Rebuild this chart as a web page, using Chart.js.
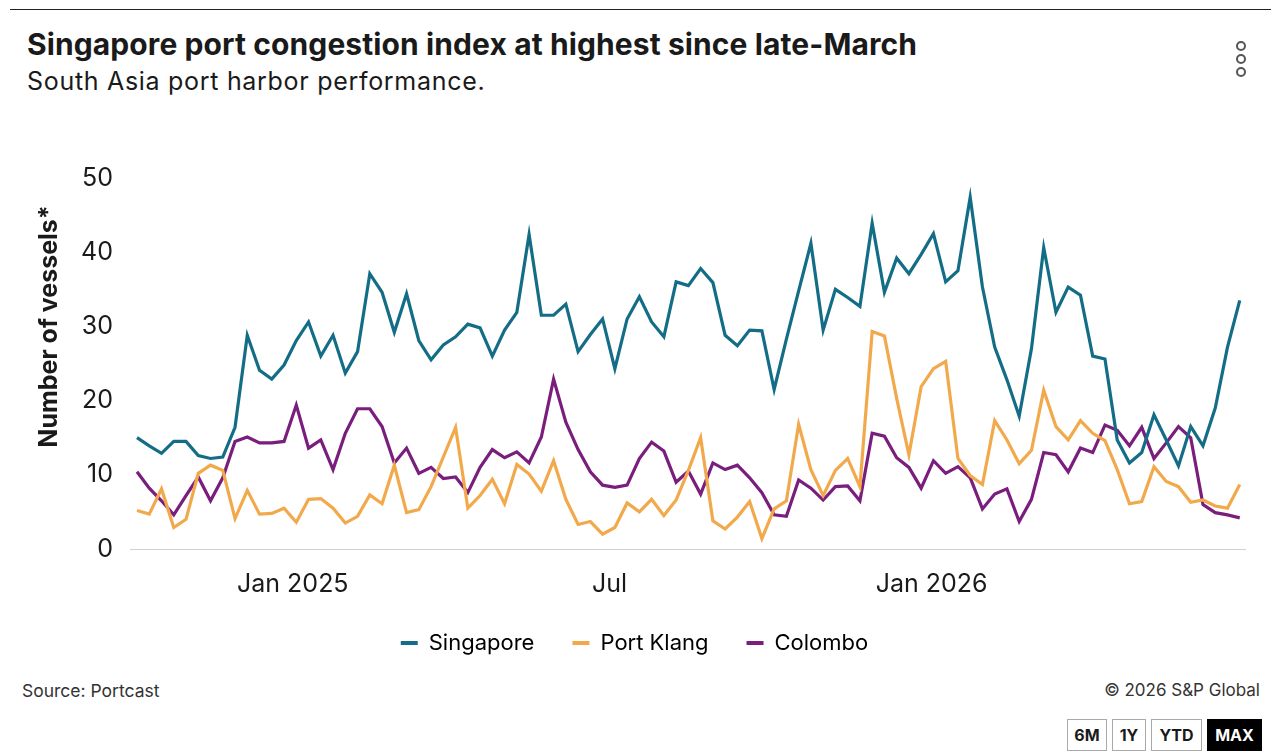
<!DOCTYPE html>
<html>
<head>
<meta charset="utf-8">
<script src="https://cdn.jsdelivr.net/npm/chart.js@4"></script>
<style>
  body { margin: 0; background: #fff; font-family: Inter, sans-serif; color: #1a1a1a; }
  #page { position: relative; width: 1281px; height: 756px; overflow: hidden; }
  .rule { position: absolute; left: 10px; top: 9px; width: 1261px; height: 1px; background: #222; }
  h1 { position: absolute; left: 27px; top: 26px; margin: 0; font-size: 30px; font-weight: 700; letter-spacing: 0.1px; }
  .sub { position: absolute; left: 27px; top: 66px; font-size: 25px; letter-spacing: 0.7px; }
  .dots { position: absolute; left: 1236px; top: 41px; }
  .dots span { display: block; width: 6px; height: 6px; border: 2px solid #555; border-radius: 50%; margin-bottom: 3px; }
  #wrap { position: absolute; left: 0; top: 110px; width: 1281px; height: 554px; }
  .src { position: absolute; left: 22px; top: 680px; font-size: 17.5px; color: #333; }
  .copy { position: absolute; right: 21px; top: 680px; font-size: 17px; color: #333; }
  .btn { position: absolute; top: 719px; height: 32px; border: 1px solid #aaa; box-sizing: border-box;
         font-size: 16px; font-weight: 700; line-height: 30px; text-align: center; }
</style>
</head>
<body>
<div id="page">
  <div class="rule"></div>
  <h1>Singapore port congestion index at highest since late-March</h1>
  <div class="sub">South Asia port harbor performance.</div>
  <div class="dots"><span></span><span></span><span></span></div>
  <div id="wrap"><canvas id="myChart"></canvas></div>
  <div class="src">Source: Portcast</div>
  <div class="copy">© 2026 S&amp;P Global</div>
  <div class="btn" style="left:1067px;width:40px;">6M</div>
  <div class="btn" style="left:1112px;width:34px;">1Y</div>
  <div class="btn" style="left:1151px;width:51px;">YTD</div>
  <div class="btn" style="left:1207px;width:55px;background:#000;color:#fff;border-color:#000;">MAX</div>
</div>
<script>
// weekly readings, first week ending 2024-10-04
const startDate = '2024-10-04';

const singapore = [15.0,13.9,12.9,14.5,14.5,12.6,12.2,12.4,16.4,28.8,24.1,22.9,24.8,28.1,30.6,26.0,28.8,23.7,26.6,37.1,
  34.6,29.2,34.4,28.1,25.5,27.5,28.6,30.3,29.8,26.0,29.5,31.9,42.4,31.5,31.5,33.0,26.6,28.9,31.0,24.3,
  31.0,34.0,30.6,28.6,36.0,35.5,37.8,35.9,28.8,27.4,29.5,29.4,21.5,28.3,34.8,41.2,29.5,35.0,33.9,32.7,
  43.9,34.6,39.2,37.1,39.7,42.5,36.0,37.5,47.4,35.3,27.2,22.8,17.9,27.0,40.6,31.9,35.3,34.2,26.0,25.6,
  14.7,11.6,13.0,18.1,14.7,11.2,16.5,13.9,19.0,27.2,33.5];

const portKlang = [5.2,4.7,8.1,2.9,4.0,10.2,11.3,10.6,4.1,7.9,4.7,4.8,5.5,3.6,6.7,6.8,5.5,3.5,4.4,7.3,
  6.1,11.3,4.9,5.3,8.4,12.4,16.4,5.5,7.2,9.4,6.1,11.4,10.1,7.8,11.9,6.7,3.3,3.7,2.0,2.9,
  6.2,5.0,6.7,4.5,6.6,10.6,15.0,3.8,2.7,4.3,6.4,1.4,5.4,6.5,16.8,10.7,7.2,10.6,12.2,8.4,
  29.3,28.7,20.3,12.7,21.9,24.3,25.3,12.2,9.9,8.7,17.3,14.7,11.5,13.3,21.4,16.5,14.7,17.3,15.6,14.6,
  10.7,6.1,6.4,11.1,9.1,8.4,6.3,6.6,5.8,5.5,8.7];

const colombo = [10.4,8.2,6.5,4.6,7.2,9.7,6.5,9.6,14.5,15.1,14.3,14.3,14.5,19.4,13.6,14.7,10.7,15.6,18.9,18.9,
  16.5,11.6,13.6,10.2,11.0,9.5,9.7,7.6,11.0,13.4,12.3,13.1,11.6,15.1,22.9,17.1,13.4,10.4,8.6,8.3,
  8.6,12.2,14.4,13.2,9.0,10.5,7.4,11.6,10.7,11.3,9.6,7.6,4.6,4.4,9.3,8.2,6.6,8.4,8.5,6.5,
  15.6,15.2,12.3,11.0,8.2,11.9,10.2,11.1,9.6,5.4,7.4,8.1,3.7,6.7,13.0,12.7,10.4,13.6,13.0,16.7,
  16.0,13.9,16.4,12.2,14.3,16.5,15.0,6.0,4.9,4.6,4.2];

const seriesNames = ['Singapore', 'Port Klang', 'Colombo'];
const seriesColors = ['#146d86', '#f2a94b', '#7a1e7e'];

// x axis ticks: day offsets from 2025-01-01
const tickDays = [0, 181, 365];
const tickLabels = ['Jan 2025', 'Jul', 'Jan 2026'];

const dayMs = 86400000;
const base = Date.UTC(2025, 0, 1);
const start = Date.parse(startDate + 'T00:00:00Z');
function toPoints(vals) {
  return vals.map((v, i) => ({ x: Math.round((start - base) / dayMs) + i * 7, y: v }));
}

const allSeries = [singapore, portKlang, colombo];

// y title sits a bit above the middle of the axis, so draw it by hand
const yTitle = {
  id: 'yTitle',
  afterDraw(chart) {
    const c = chart.ctx;
    const a = chart.chartArea;
    c.save();
    c.translate(49, a.top + (a.bottom - a.top) * 0.4);
    c.rotate(-Math.PI / 2);
    c.font = 'bold 25px Inter';
    c.fillStyle = '#1a1a1a';
    c.textAlign = 'center';
    c.textBaseline = 'middle';
    c.fillText('Number of vessels*', 0, 0);
    c.restore();
  }
};

// nudge legend to the right like the original
const legendShift = {
  id: 'legendShift',
  afterLayout(chart) {
    chart.legend.left += 12;
    chart.legend.right += 12;
  }
};

var ctx = document.getElementById('myChart').getContext('2d');

var mychart = new Chart(ctx, {
  type: 'line',
  data: {
    datasets: allSeries.map((vals, k) => ({
      label: seriesNames[k],
      data: toPoints(vals),
      borderColor: seriesColors[k],
      backgroundColor: seriesColors[k],
      borderWidth: 3.2,
      pointRadius: 0,
      tension: 0
    }))
  },
  options: {
    responsive: true,
    maintainAspectRatio: false,
    animation: false,
    layout: { padding: { top: 68, right: 36, left: 0, bottom: 0 } },
    plugins: {
      legend: {
        position: 'bottom',
        labels: {
          boxWidth: 17, boxHeight: 4, padding: 38,
          color: '#1a1a1a',
          font: { family: 'Inter', size: 22 },
          generateLabels: (chart) => chart.data.datasets.map((ds, i) => ({
            text: ds.label, fillStyle: ds.borderColor, strokeStyle: ds.borderColor,
            lineWidth: 0, datasetIndex: i
          }))
        }
      },
      tooltip: { enabled: false }
    },
    scales: {
      x: {
        type: 'linear',
        min: -93,
        max: 544,
        afterFit: (s) => { s.height = 45; },
        afterBuildTicks: (s) => { s.ticks = tickDays.map(v => ({ value: v })); },
        grid: { display: false, drawTicks: false },
        border: { display: true, color: '#d0d0d0', width: 1 },
        ticks: {
          padding: 20,
          color: '#1a1a1a',
          font: { family: 'Inter', size: 25 },
          maxRotation: 0,
          callback: (v) => tickLabels[tickDays.indexOf(v)]
        }
      },
      y: {
        min: 0,
        max: 50,
        afterFit: (s) => { s.width = 130; },
        grid: { display: false, drawTicks: false },
        border: { display: false },
        ticks: {
          stepSize: 10,
          padding: 17,
          color: '#1a1a1a',
          font: { family: 'Inter', size: 25 }
        }
      }
    }
  },
  plugins: [yTitle, legendShift]
});
</script>
</body>
</html>
